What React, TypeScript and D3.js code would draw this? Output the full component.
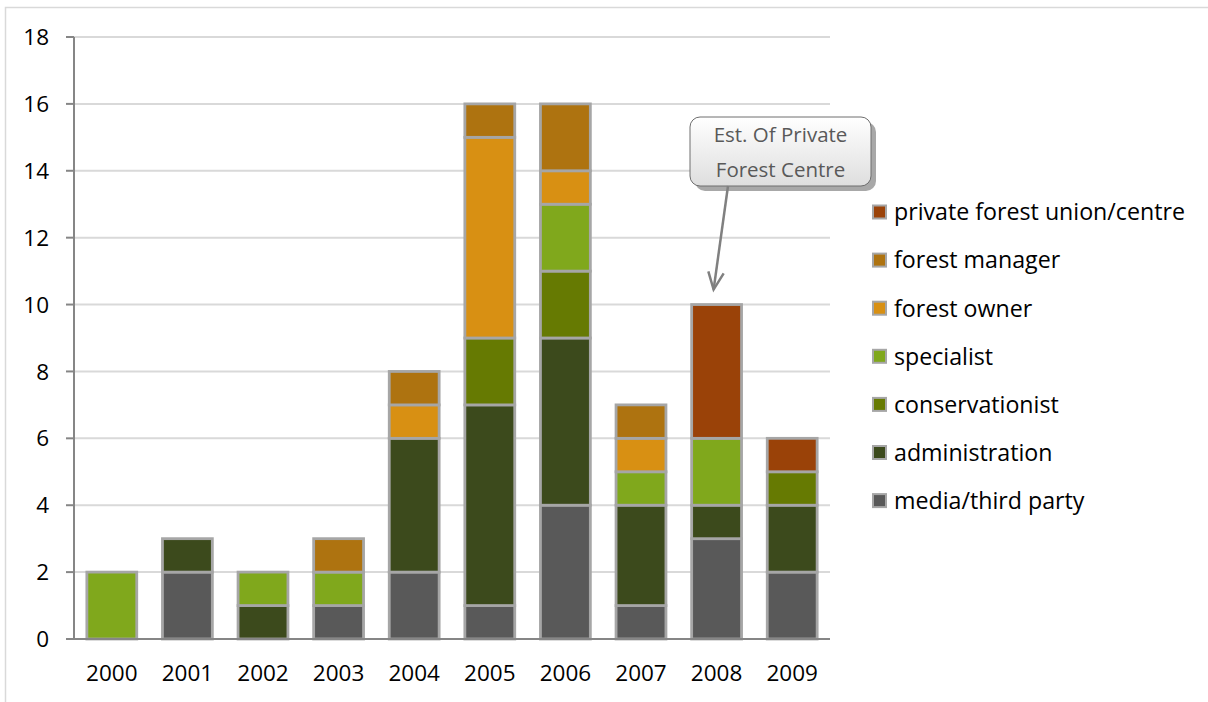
import React from "react";
import * as d3 from "d3";

const years = ["2000", "2001", "2002", "2003", "2004", "2005", "2006", "2007", "2008", "2009"];
const seriesNames = [
  "media/third party",
  "administration",
  "conservationist",
  "specialist",
  "forest owner",
  "forest manager",
  "private forest union/centre",
];
const media = [0, 2, 0, 1, 2, 1, 4, 1, 3, 2];
const administration = [0, 1, 1, 0, 4, 6, 5, 3, 1, 2];
const conservationist = [0, 0, 0, 0, 0, 2, 2, 0, 0, 1];
const specialist = [2, 0, 1, 1, 0, 0, 2, 1, 2, 0];
const forestOwner = [0, 0, 0, 0, 1, 6, 1, 1, 0, 0];
const forestManager = [0, 0, 0, 1, 1, 1, 2, 1, 0, 0];
const privateUnion = [0, 0, 0, 0, 0, 0, 0, 0, 4, 1];
const seriesColors = ["#595959", "#3c4a1c", "#667a02", "#80a81c", "#d89013", "#ae7310", "#9a4208"];
const yTicks = [0, 2, 4, 6, 8, 10, 12, 14, 16, 18];
const calloutLines = ["Est. Of Private", "Forest Centre"];
const calloutYear = "2008";
const calloutValue = 10;

const W = 1208;
const H = 702;
const FONT = "'Open Sans', 'Liberation Sans', sans-serif";

export default function App() {
  const seriesValues = [media, administration, conservationist, specialist, forestOwner, forestManager, privateUnion];
  const table = years.map((y, i) => {
    const row: any = { year: y };
    seriesNames.forEach((s, k) => (row[s] = seriesValues[k][i]));
    return row;
  });
  const stacked = d3.stack().keys(seriesNames)(table);

  const x = d3.scaleBand().domain(years).range([74, 830]).paddingInner(0.34).paddingOuter(0.17);
  const y = d3.scaleLinear().domain([0, 18]).range([639, 37]);

  const bw = x.bandwidth();
  const legendItems = seriesNames.map((n, i) => ({ n, c: seriesColors[i] })).reverse();

  const tipX = (x(calloutYear) as number) + bw / 2 - 3;
  const tipY = y(calloutValue) - 15;
  const boxX = 690, boxY = 117, boxW = 181, boxH = 69;
  const startX = 728, startY = boxY + boxH;
  const ang = Math.atan2(tipY - startY, tipX - startX);
  const ah = 19, aw = 0.42;
  const a1 = [tipX - ah * Math.cos(ang - aw), tipY - ah * Math.sin(ang - aw)];
  const a2 = [tipX - ah * Math.cos(ang + aw), tipY - ah * Math.sin(ang + aw)];

  return (
    <svg width={W} height={H} style={{ position: "absolute", left: 0, top: 0, background: "#fff" }} fontFamily={FONT}>
      <defs>
        <linearGradient id="cg" x1="0" y1="0" x2="0" y2="1">
          <stop offset="0" stopColor="#ffffff" />
          <stop offset="1" stopColor="#dedede" />
        </linearGradient>
      </defs>
      <rect x={5.5} y={7.5} width={W + 20} height={H + 20} fill="#fff" stroke="#d9d9d9" strokeWidth={1.5} />
      {/* gridlines */}
      {yTicks.map((t) =>
        t === 0 ? null : (
          <line key={t} x1={74} x2={830} y1={y(t)} y2={y(t)} stroke="#d9d9d9" strokeWidth={2} />
        )
      )}
      {/* bars */}
      {stacked.map((s, k) =>
        s.map((d, i) =>
          d[1] - d[0] > 0 ? (
            <rect
              key={k + "-" + i}
              x={x(years[i])}
              y={y(d[1])}
              width={bw}
              height={y(d[0]) - y(d[1])}
              fill={seriesColors[k]}
              stroke="#a6a6a6"
              strokeWidth={2.8}
            />
          ) : null
        )
      )}
      {/* axes */}
      <line x1={74} x2={74} y1={y(18)} y2={y(0)} stroke="#868686" strokeWidth={2} />
      <line x1={66} x2={830} y1={y(0)} y2={y(0)} stroke="#868686" strokeWidth={2} />
      {yTicks.map((t) => (
        <g key={t}>
          <line x1={66} x2={74} y1={y(t)} y2={y(t)} stroke="#868686" strokeWidth={2} />
          <text x={49} y={y(t)} dy="0.36em" textAnchor="end" fontSize={22.5} fill="#000">
            {t}
          </text>
        </g>
      ))}
      {years.map((yr) => (
        <text key={yr} x={(x(yr) as number) + bw / 2} y={673} dy="0.36em" textAnchor="middle" fontSize={22.5} fill="#000">
          {yr}
        </text>
      ))}
      {/* legend */}
      {legendItems.map((it, i) => {
        const cy = 212 + i * 48.1;
        return (
          <g key={it.n}>
            <rect x={873} y={cy - 6.5} width={13} height={13} fill={it.c} stroke="#a6a6a6" strokeWidth={2} />
            <text x={894} y={cy} dy="0.36em" fontSize={23.2} fill="#000">
              {it.n}
            </text>
          </g>
        );
      })}
      {/* callout */}
      <rect x={boxX + 5} y={boxY + 5} width={boxW} height={boxH} rx={10} fill="#a8a8a8" />
      <rect x={boxX} y={boxY} width={boxW} height={boxH} rx={10} fill="url(#cg)" stroke="#6e6e6e" strokeWidth={1} />
      {calloutLines.map((l, i) => (
        <text key={l} x={boxX + boxW / 2} y={boxY + 18 + i * 35} dy="0.36em" textAnchor="middle" fontSize={20.5} fill="#595959">
          {l}
        </text>
      ))}
      <line x1={startX} y1={startY} x2={tipX} y2={tipY} stroke="#808080" strokeWidth={2.5} />
      <polyline
        points={`${a1[0]},${a1[1]} ${tipX},${tipY} ${a2[0]},${a2[1]}`}
        fill="none"
        stroke="#808080"
        strokeWidth={2.5}
      />
    </svg>
  );
}
